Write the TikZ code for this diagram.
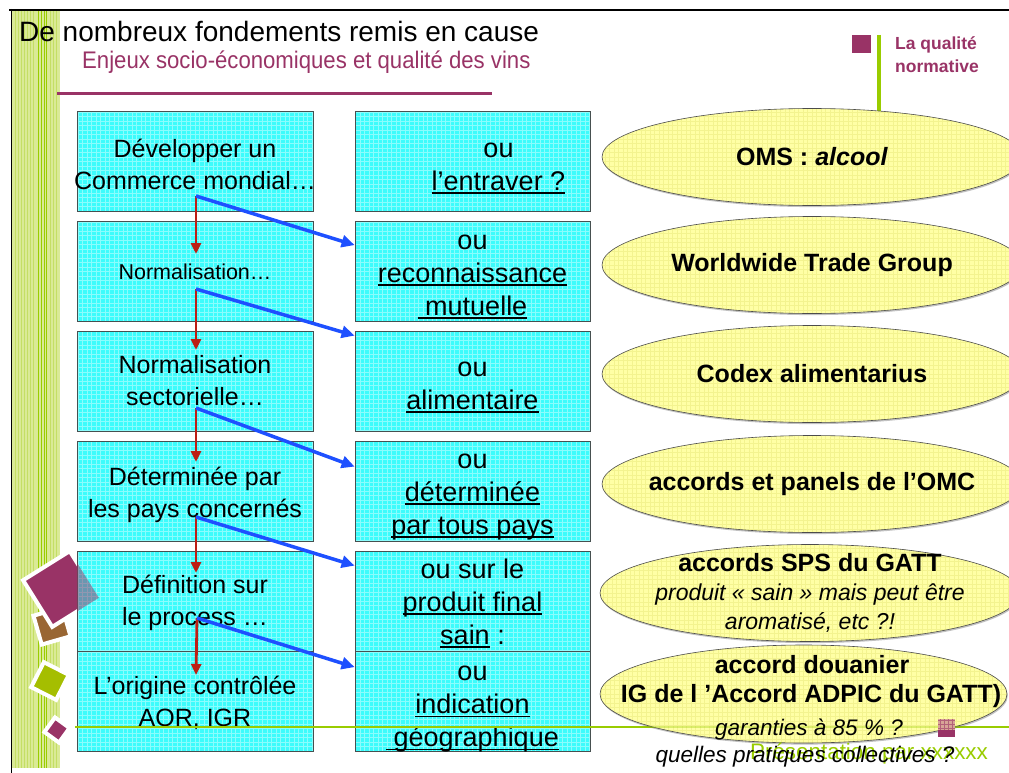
\documentclass[tikz,border=0pt]{standalone}
\usepackage{fontspec}
\setmainfont{Liberation Sans}
\usepackage{graphicx}
\usetikzlibrary{arrows.meta,shapes.geometric,shadows}

\definecolor{plum}{RGB}{153,51,102}
\definecolor{lime}{RGB}{153,204,0}
\definecolor{stripe}{RGB}{218,234,150}
\definecolor{stripeline}{RGB}{196,222,100}
\definecolor{cyanbox}{RGB}{60,252,252}
\definecolor{paleyel}{RGB}{255,255,165}
\definecolor{yelgrid}{RGB}{225,225,110}
\definecolor{arrblue}{RGB}{30,80,255}
\definecolor{arrred}{RGB}{190,30,20}
\definecolor{brownsq}{RGB}{153,102,51}
\definecolor{olivesq}{RGB}{165,190,0}
\definecolor{boxline}{RGB}{70,80,80}
\definecolor{tanpink}{RGB}{215,165,150}

\newsavebox\ulbox
\newcommand\myul[1]{\leavevmode\sbox\ulbox{#1}\rlap{\rule[-3.5pt]{\wd\ulbox}{1.8pt}}\usebox\ulbox}
\newcommand\decosq[5]{%
  \begin{scope}[shift={(#1,#2)}, rotate=#4]
    \filldraw[fill=#5, draw=white, line width=4pt] (-#3/2,-#3/2) -- (#3/2,-#3/2) -- (#3/2,#3/2) -- (-#3/2,#3/2) -- cycle;
  \end{scope}}

\tikzset{
  gridfill/.style={path picture={\draw[white, opacity=0.4, line width=0.6pt, step=4.5pt]
      (path picture bounding box.south west) grid (path picture bounding box.north east);}},
  lbox/.style={draw=boxline, line width=0.8pt, fill=cyanbox, gridfill,
      minimum width=236pt, minimum height=100pt, inner sep=0pt},
  mbox/.style={lbox, minimum width=235pt},
  ltxt/.style={align=center, inner sep=0pt, font=\fontsize{25}{32}\selectfont},
  mtxt/.style={align=center, inner sep=0pt, font=\fontsize{27}{33}\selectfont},
  ell/.style={ellipse, draw=gray!60!black, line width=0.6pt, fill=paleyel,
      minimum width=420pt, minimum height=97pt, inner sep=0pt,
      path picture={\draw[yelgrid, opacity=0.4, line width=0.5pt, step=4.5pt]
      (path picture bounding box.south west) grid (path picture bounding box.north east);},
      drop shadow={shadow xshift=0.8pt, shadow yshift=-1.6pt, fill=black!60, opacity=0.4}},
  etxt/.style={align=center, inner sep=0pt, font=\bfseries\fontsize{25}{29}\selectfont},
  bluearr/.style={draw=arrblue, line width=3.5pt, -{Triangle[length=13pt,width=12pt]}},
  redarr/.style={draw=arrred, line width=2.8pt, -{Triangle[length=11pt,width=10pt]}},
}

\begin{document}
\begin{tikzpicture}[x=1pt,y=-1pt]
\useasboundingbox (0,0) rectangle (1009,773);
\fill[white] (0,0) rectangle (1009,773);

% left decorative stripe
\fill[stripe] (12,10) rectangle (60,768);
\foreach \xx in {15,18,21,24,27,30,33,50,53,56}{\draw[stripeline, line width=0.7pt] (\xx,10) -- (\xx,768);}
\foreach \xx in {38,41,44,46}{\draw[lime, line width=0.9pt] (\xx,10) -- (\xx,768);}

% frame lines
\draw[line width=2.2pt] (9,10) -- (1009,10);
\draw[line width=1.8pt] (11.5,9) -- (11.5,773);

% titles
\node[anchor=base west, inner sep=0pt, font=\fontsize{28}{32}\selectfont] (title) at (19,42) {De nombreux fondements remis en cause};
\node[anchor=base west, inner sep=0pt, text=plum, font=\fontsize{24}{28}\selectfont] (subtitle) at (82,69) {\scalebox{0.923}[1]{Enjeux socio-économiques et qualité des vins}};
\draw[plum, line width=3pt] (57,94) -- (492,94);

% top right tag
\fill[plum] (852,35) rectangle (870.5,53.5);
\draw[lime, line width=4pt] (878.5,35) -- (878.5,112);
\node[anchor=base west, inner sep=0pt, text=plum, font=\bfseries\fontsize{17.5}{23}\selectfont] (tag1) at (895,50) {La qualité};
\node[anchor=base west, inner sep=0pt, text=plum, font=\bfseries\fontsize{17.5}{23}\selectfont] (tag2) at (895,73) {normative};

% decorative squares
\decosq{52}{626}{30}{16}{brownsq}
\decosq{61}{589}{55}{32}{plum}
\decosq{50}{681}{28}{-27}{olivesq}
\decosq{57}{730}{18}{-36}{plum}

% left boxes
\node[lbox] (l1) at (195,161.5) {};
\node[lbox] (l2) at (195,271.5) {};
\node[lbox] (l3) at (195,381) {};
\node[lbox] (l4) at (195,491) {};
\node[lbox] (l5) at (195,601) {};
\node[lbox] (l6) at (195,701.5) {};

% purple square seen through box 5
\begin{scope}
  \clip (77,551) rectangle (313,651);
  \begin{scope}[shift={(61,589)}, rotate=32]
    \fill[plum, fill opacity=0.5] (-27.5,-27.5) -- (27.5,-27.5) -- (27.5,27.5) -- (-27.5,27.5) -- cycle;
  \end{scope}
\end{scope}

\node[ltxt, yshift=-2.5pt] (lt1) at (l1.center) {Développer un\\\makebox[236pt]{Commerce mondial…}};
\node[ltxt, font=\fontsize{21.5}{26}\selectfont] (lt2) at (l2.center) {Normalisation…};
\node[ltxt] (lt3) at (l3.center) {Normalisation\\sectorielle…};
\node[ltxt, yshift=-4pt] (lt4) at (l4.center) {Déterminée par\\les pays concernés};
\node[ltxt, yshift=-2pt] (lt5) at (l5.center) {Définition sur\\le process …};
\node[ltxt, yshift=-1.5pt] (lt6) at (l6.center) {L’origine contrôlée\\AOR, IGR};

% middle boxes
\node[mbox] (m1) at (472.5,161.5) {};
\node[mbox] (m2) at (472.5,271.5) {};
\node[mbox] (m3) at (472.5,381) {};
\node[mbox] (m4) at (472.5,491) {};
\node[mbox] (m5) at (472.5,601) {};
\node[mbox] (m6) at (472.5,701.5) {};

\node[mtxt, yshift=-7pt] (mt1) at (m1.center) {\hspace*{52pt}ou\\\hspace*{52pt}\myul{l’entraver ?}};
\node[mtxt, yshift=-5pt] (mt2) at (m2.center) {ou\\\myul{reconnaissance}\\\myul{\ mutuelle}};
\node[mtxt, yshift=-6pt] (mt3) at (m3.center) {ou\\\myul{alimentaire}};
\node[mtxt, yshift=-6pt] (mt4) at (m4.center) {ou\\\myul{déterminée}\\\myul{par tous pays}};
\node[mtxt, yshift=-2pt] (mt5) at (m5.center) {ou sur le\\\myul{produit final}\\\myul{sain} :};
\node[mtxt, yshift=-8pt] (mt6) at (m6.center) {ou\\\myul{indication}\\\myul{\ géographique}};

% bottom green line
\draw[lime, line width=2.7pt] (75,727) -- (1009,727);

% ellipses
\node[ell] (e1) at (812,157) {};
\node[ell] (e2) at (812,265) {};
\node[ell] (e3) at (812,374) {};
\node[ell] (e4) at (812,484) {};
\node[ell] (e5) at (810,593) {};
\node[ell, minimum width=407pt, minimum height=98pt] (e6) at (803.5,694) {};
\draw[lime, line width=2.7pt, opacity=0.35] (600,727) -- (1009,727);

% bottom right square
\fill[plum] (938,719) rectangle (955,736.5);
\fill[tanpink] (938,719) rectangle (955,730);
\draw[plum!60!tanpink, line width=0.4pt, step=4pt] (938,719) grid (955,730);

% ellipse texts
\node[etxt] (t1) at (e1.center) {OMS : \textit{alcool}};
\node[etxt] (t2) at (e2.center) {Worldwide Trade Group};
\node[etxt] (t3) at (e3.center) {Codex alimentarius};
\node[etxt] (t4) at (e4.center) {accords et panels de l’OMC};
\node[etxt] (t5) at (e5.center) {accords SPS du GATT\\{\mdseries\itshape\fontsize{23}{29}\selectfont produit « sain » mais peut être}\\{\mdseries\itshape\fontsize{23}{29}\selectfont aromatisé, etc ?!}};
\node[etxt, anchor=base] (t6) at (812,673) {accord douanier};
\node[etxt, anchor=base] (t6b) at (811,702) {IG de l ’Accord ADPIC du GATT)};
\node[anchor=base, inner sep=0pt, font=\itshape\fontsize{22.5}{27}\selectfont] (t6c) at (809,735) {garanties à 85 \% ?};
\node[anchor=base, inner sep=0pt, text=lime, font=\fontsize{22.4}{27}\selectfont] (pres) at (869,759) {Présentation par xxxxxx};
\node[anchor=base, inner sep=0pt, font=\itshape\fontsize{22.5}{27}\selectfont] (t7) at (805,762) {quelles pratiques collectives ?};

% arrow anchors
\coordinate (s1) at (196,196);
\coordinate (s2) at (196,289);
\coordinate (s3) at (196,408);
\coordinate (s4) at (196,517);
\coordinate (s5) at (197,618);
\coordinate (r1) at (196,254);
\coordinate (r2) at (196,350);
\coordinate (r3) at (196,462);
\coordinate (r4) at (196,573);
\coordinate (r5) at (196,675);

\draw[redarr] (s1) -- (r1);
\draw[redarr] (s2) -- (r2);
\draw[redarr] (s3) -- (r3);
\draw[redarr] (s4) -- (r4);
\draw[redarr] (s5) -- (r5);

\draw[bluearr] (s1) -- ([yshift=-24pt]m2.north west);
\draw[bluearr] (s2) -- ([yshift=-5pt]m3.north west);
\draw[bluearr] (s3) -- ([yshift=-26pt]m4.north west);
\draw[bluearr] (s4) -- ([yshift=-15pt]m5.north west);
\draw[bluearr] (s5) -- ([yshift=-16pt]m6.north west);
\end{tikzpicture}
\end{document}
